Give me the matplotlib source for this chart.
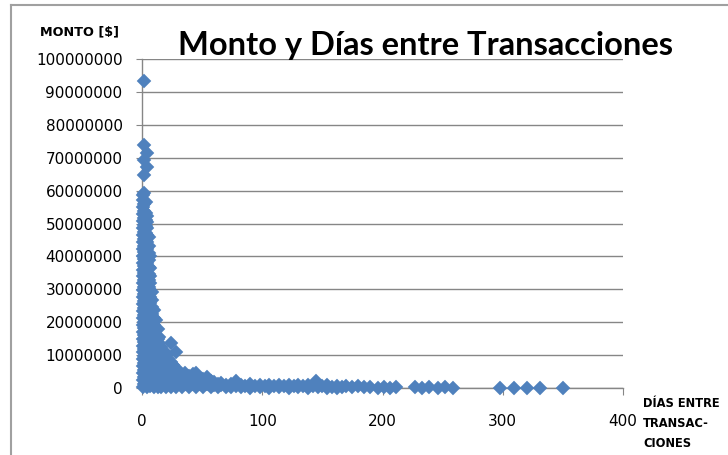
import numpy as np
import matplotlib.pyplot as plt
from matplotlib.lines import Line2D

# dias entre transacciones (columnas de puntos) y montos en millones de $
dias_col = [1, 2, 3, 4, 5.5, 7, 8.5, 10, 11.5, 13, 14.5, 16, 18, 20, 22, 24, 26,
            28, 30, 33, 36, 39, 42, 45, 48, 51, 54, 57, 60, 63, 66, 70, 74, 78,
            82, 86, 90, 94, 98, 102, 106, 110, 114, 118, 122, 126, 130, 134,
            138, 142, 145, 146, 150, 154, 158, 162, 166, 170, 175, 180, 185,
            190, 196, 201, 206, 211, 227, 233, 239, 246, 252, 259,
            298, 309, 320, 331, 350]
montos_col = [
    [0.3, 2.4, 4.5, 6.6, 8.7, 10.8, 12.9, 15.0, 17.1, 19.2, 21.3, 23.4, 25.5,
     27.6, 29.7, 31.8, 33.9, 36.0, 38.1, 40.2, 42.3, 44.4, 46.5, 48.6, 50.7,
     52.8, 54.9, 57.0, 58.6],
    [1.3, 3.4, 5.5, 7.6, 9.7, 11.8, 13.9, 16.0, 18.1, 20.2, 22.3, 24.4, 26.5,
     28.6, 30.7, 32.8, 34.9, 37.0, 39.1, 41.2, 43.3, 45.4, 47.5, 49.6, 51.7,
     53.8, 55.9, 59.3, 64.7, 69.3, 73.9, 93.4],
    [0.8, 2.9, 5.0, 7.1, 9.2, 11.3, 13.4, 15.5, 17.6, 19.7, 21.8, 23.9, 26.0,
     28.1, 30.2, 32.3, 34.4, 36.5, 38.6, 40.7, 42.8, 44.9, 47.0, 49.1, 51.2,
     53.3, 56.4],
    [0.2, 2.3, 4.4, 6.5, 8.6, 10.7, 12.8, 14.9, 17.0, 19.1, 21.2, 23.3, 25.4,
     27.5, 29.6, 31.7, 33.8, 35.9, 38.0, 40.1, 42.2, 44.3, 46.4, 48.5, 50.6,
     52.4, 67.3, 71.3],
    [1.2, 3.3, 5.4, 7.5, 9.6, 11.7, 13.8, 15.9, 18.0, 20.1, 22.2, 24.3, 26.4,
     28.5, 30.6, 32.7, 34.8, 36.9, 39.0, 41.1, 43.2, 45.8],
    [0.5, 2.6, 4.7, 6.8, 8.9, 11.0, 13.1, 15.2, 17.3, 19.4, 21.5, 23.6, 25.7,
     27.8, 29.9, 32.0, 34.1, 36.4, 40.2],
    [1.6, 3.7, 5.8, 7.9, 10.0, 12.1, 14.2, 16.3, 18.4, 20.5, 22.6, 24.7, 26.8,
     29.1],
    [0.4, 2.5, 4.6, 6.7, 8.8, 10.9, 13.0, 15.1, 17.2, 19.3, 21.4, 23.6],
    [1.4, 3.5, 5.6, 7.7, 9.8, 11.9, 14.0, 16.1, 18.2, 20.6],
    [0.3, 2.4, 4.5, 6.6, 8.7, 10.8, 12.9, 15.0, 17.9],
    [1.2, 3.3, 5.4, 7.5, 9.6, 11.7, 13.8, 15.6],
    [0.2, 2.3, 4.4, 6.5, 8.6, 10.7, 12.6],
    [1.1, 3.2, 5.3, 7.4, 9.5, 11.2],
    [0.3, 2.4, 4.5, 6.6, 8.7, 10.1],
    [1.3, 3.4, 5.5, 7.6, 8.8],
    [0.4, 2.5, 4.6, 6.7, 7.9, 13.7],
    [1.4, 3.5, 5.6, 7.0],
    [0.2, 2.3, 4.4, 6.1, 10.9],
    [1.2, 3.3, 5.2],
    [0.3, 2.4, 4.1],
    [1.3, 3.1, 4.5],
    [0.2, 2.2, 3.6],
    [1.1, 2.8, 4.2],
    [0.3, 2.4, 4.6],
    [1.2, 2.9],
    [0.2, 1.9, 2.6],
    [1.1, 3.3],
    [0.3, 1.8, 2.0],
    [1.0, 1.8],
    [0.2, 1.1],
    [0.9, 1.5],
    [0.2, 0.9],
    [0.3, 1.3],
    [0.6, 2.1],
    [0.2, 1.0],
    [0.7],
    [0.1, 1.1],
    [0.6],
    [0.2, 1.0],
    [0.7],
    [0.1, 0.9],
    [0.5],
    [0.2, 1.0],
    [0.6],
    [0.1, 0.9],
    [0.5],
    [0.2, 1.0],
    [0.6],
    [0.1, 0.8],
    [0.5],
    [2.0],
    [0.2, 0.8],
    [0.5],
    [0.1, 0.8],
    [0.4],
    [0.1, 0.7],
    [0.3],
    [0.6],
    [0.2],
    [0.5],
    [0.2],
    [0.4],
    [0.1],
    [0.3],
    [0.1],
    [0.2],
    [0.3], [0.1], [0.4], [0.1], [0.2], [0.1],
    [0.0], [0.1], [0.0], [0.1], [0.0],
]

x_ticks = [0, 100, 200, 300, 400]
y_ticks = [0, 10000000, 20000000, 30000000, 40000000, 50000000,
           60000000, 70000000, 80000000, 90000000, 100000000]

dias = []
montos = []
for d, vals in zip(dias_col, montos_col):
    for v in vals:
        dias.append(d)
        montos.append(v * 1e6)

fig = plt.figure(figsize=(7.28, 4.55), dpi=100)
ax = fig.add_axes([142 / 728, 67 / 455, 481 / 728, 329 / 455])

gris = '#868686'
azul = '#4F81BD'
ax.plot(dias, montos, linestyle='none', marker='D', ms=7.0,
        color=azul, mec=azul, mew=0.3, clip_on=False, zorder=3)

ax.set_xlim(0, 400)
ax.set_ylim(0, 100000000)
ax.set_xticks(x_ticks)
ax.set_yticks(y_ticks)
ax.set_yticklabels([str(v) for v in y_ticks])
ax.yaxis.grid(True, color=gris, linewidth=1.0)
ax.set_axisbelow(True)
for s in ['top', 'right']:
    ax.spines[s].set_visible(False)
for s in ['left', 'bottom']:
    ax.spines[s].set_color(gris)
    ax.spines[s].set_linewidth(1.0)
ax.tick_params(axis='y', length=4, color=gris, pad=10, labelsize=11)
ax.tick_params(axis='x', length=5, color=gris, pad=14, labelsize=11)

fig.text(426 / 728, 1 - 55 / 455, 'Monto y Días entre Transacciones',
         family='Lato', weight='bold', fontsize=23.5, ha='center', va='baseline')
fig.text(40 / 728, 1 - 32 / 455, 'MONTO [$]', weight='bold', fontsize=9.2,
         ha='left', va='center')
fig.text(643 / 728, 1 - 397 / 455, 'DÍAS ENTRE\nTRANSAC-\nCIONES', weight='bold',
         fontsize=8.3, ha='left', va='top', linespacing=1.7)

# marco del grafico
fig.add_artist(Line2D([11 / 728, 11 / 728], [0, 1 - 5 / 455], color='#a0a0a0', lw=1.5))
fig.add_artist(Line2D([11 / 728, 1], [1 - 5 / 455, 1 - 5 / 455], color='#a0a0a0', lw=1.5))

plt.savefig('out.png', dpi=100)
